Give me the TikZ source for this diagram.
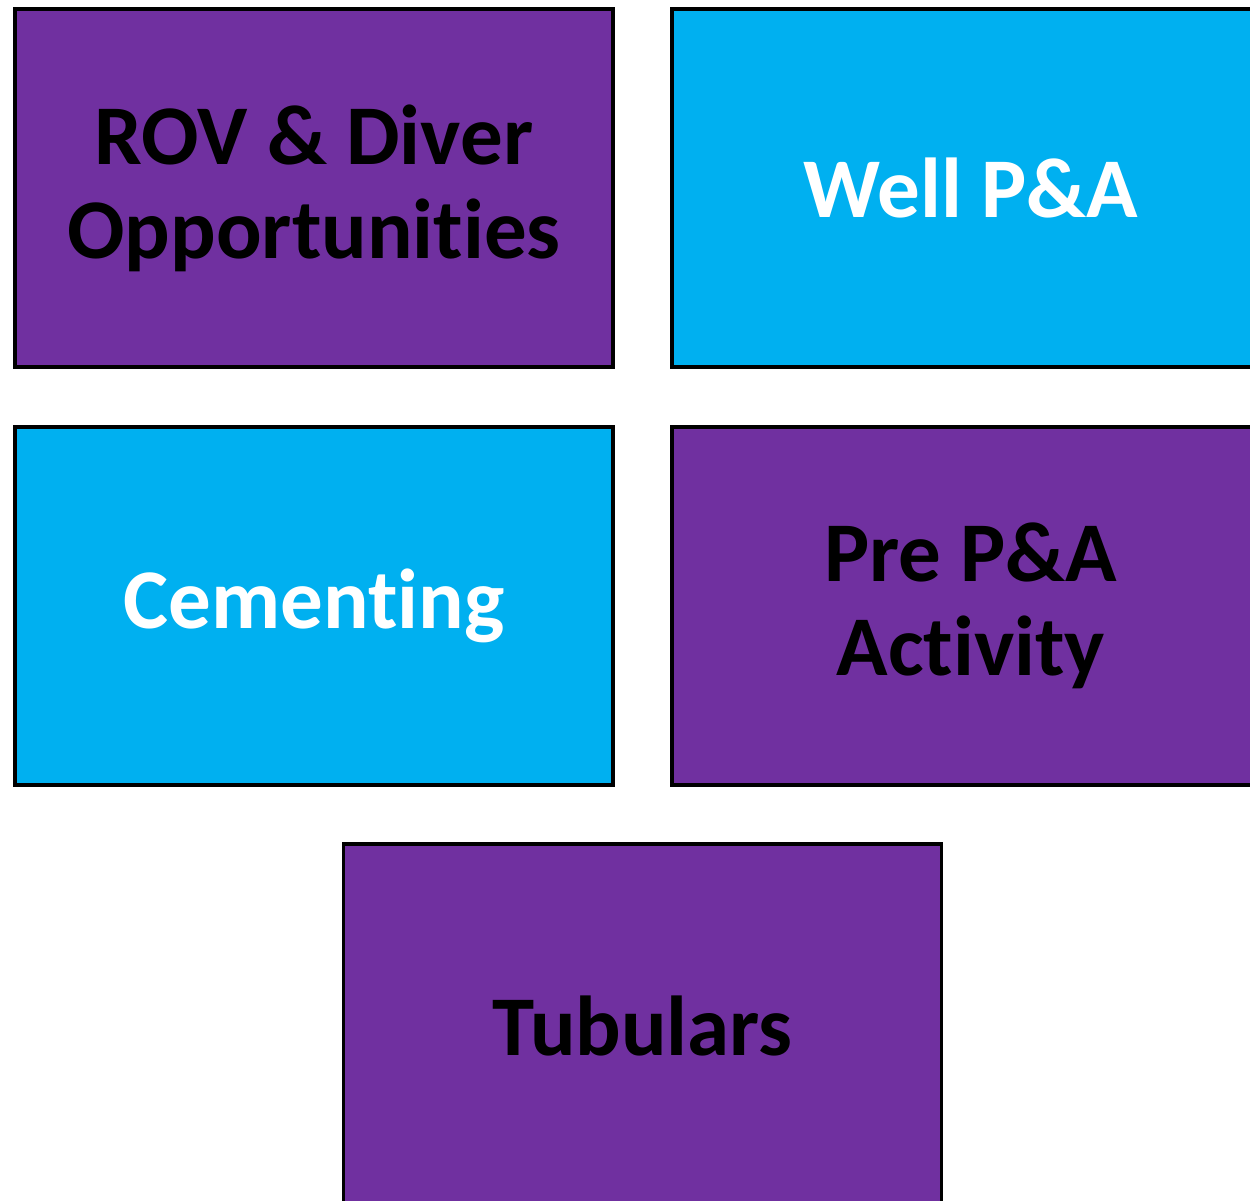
\documentclass[tikz,border=0pt]{standalone}
\usepackage{fontspec}
\setmainfont[Ligatures=NoCommon]{Carlito}
\definecolor{purp}{HTML}{7030A0}
\definecolor{cyanb}{HTML}{00B0F0}
\begin{document}
\begin{tikzpicture}[x=1pt,y=-1pt,
  box/.style={draw=black, line width=3.5pt, minimum width=598pt, minimum height=358pt,
    inner sep=0pt, align=center, font=\fontsize{85}{94}\selectfont\bfseries},
  pbox/.style={box, fill=purp, text=black},
  cbox/.style={box, fill=cyanb, text=white}]
\useasboundingbox (0,0) rectangle (1250,1200);
\clip (0,0) rectangle (1250,1200);
\node[pbox] (rov) at (314,188) {ROV \& Diver\\Opportunities};
\node[cbox] (well) at (971,188) {Well P\&A};
\node[cbox] (cem) at (314,606) {Cementing};
\node[pbox] (pre) at (971,606) {Pre P\&A\\Activity};
\node[pbox, minimum height=364pt] (tub) at (642.5,1026) {Tubulars};
\end{tikzpicture}
\end{document}
